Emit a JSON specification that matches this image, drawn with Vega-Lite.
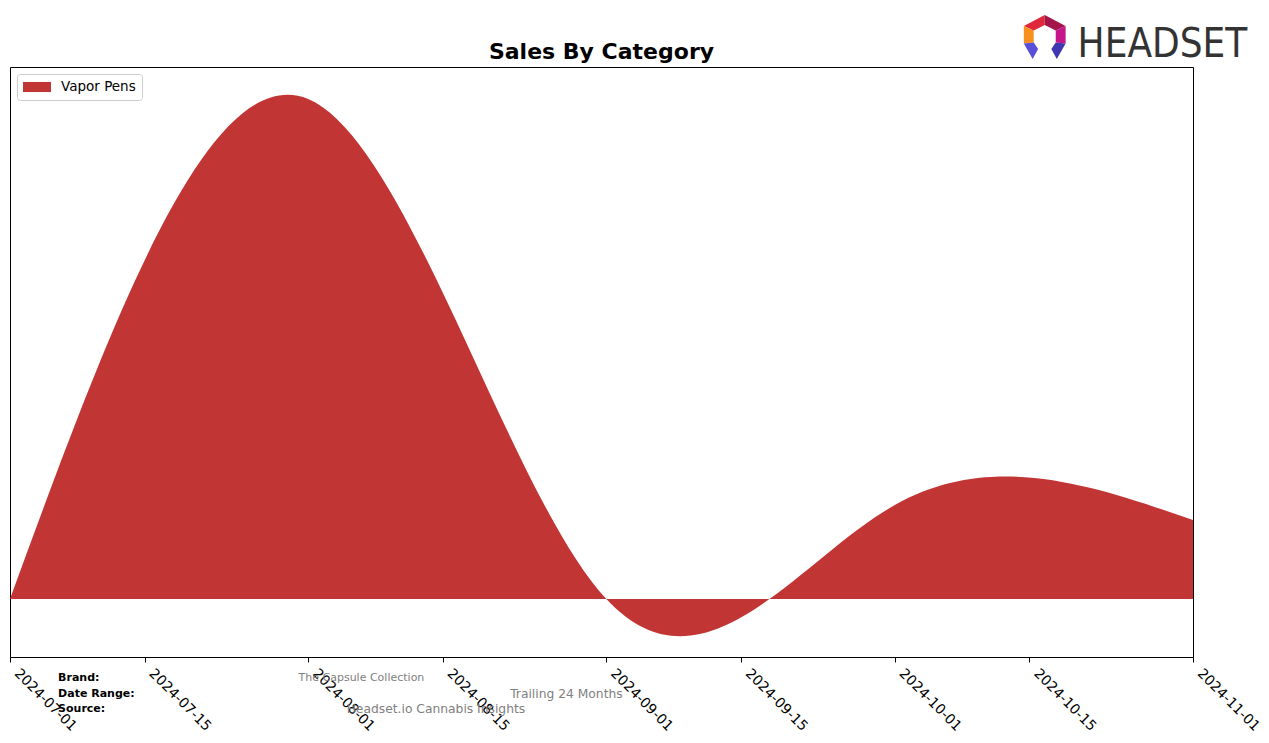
{
  "$schema": "https://vega.github.io/schema/vega-lite/v6.json",
  "width": 1183,
  "height": 590,
  "autosize": {"type": "none"},
  "padding": {"left": 10, "top": 67, "right": 76, "bottom": 86},
  "background": "white",
  "config": {
    "font": "DejaVu Sans",
    "view": {"stroke": "black", "strokeWidth": 1}
  },
  "datasets": {
    "sales": [
      {"date": "2024-07-01", "category": "Vapor Pens", "sales": 0},
      {"date": "2024-08-01", "category": "Vapor Pens", "sales": 50000},
      {"date": "2024-09-01", "category": "Vapor Pens", "sales": 0},
      {"date": "2024-10-01", "category": "Vapor Pens", "sales": 9400},
      {"date": "2024-11-01", "category": "Vapor Pens", "sales": 7900}
    ],
    "logo": [{"brand": "Headset"}]
  },
  "layer": [
    {
      "data": {"name": "sales"},
      "mark": {"type": "area", "interpolate": "natural"},
      "encoding": {
        "x": {
          "field": "date",
          "type": "temporal",
          "scale": {
            "type": "utc",
            "domain": [
              {"year": 2024, "month": 7, "date": 1, "utc": true},
              {"year": 2024, "month": 11, "date": 1, "utc": true}
            ]
          },
          "axis": {
            "title": null,
            "values": [
              {"year": 2024, "month": 7, "date": 1, "utc": true},
              {"year": 2024, "month": 7, "date": 15, "utc": true},
              {"year": 2024, "month": 8, "date": 1, "utc": true},
              {"year": 2024, "month": 8, "date": 15, "utc": true},
              {"year": 2024, "month": 9, "date": 1, "utc": true},
              {"year": 2024, "month": 9, "date": 15, "utc": true},
              {"year": 2024, "month": 10, "date": 1, "utc": true},
              {"year": 2024, "month": 10, "date": 15, "utc": true},
              {"year": 2024, "month": 11, "date": 1, "utc": true}
            ],
            "format": "%Y-%m-%d",
            "labelAngle": 45,
            "labelAlign": "left",
            "labelBaseline": "top",
            "labelFontSize": 14,
            "labelColor": "black",
            "labelPadding": 4,
            "labelOffset": 11,
            "labelOverlap": false,
            "labelFlush": false,
            "tickColor": "black",
            "tickSize": 5,
            "domainColor": "black",
            "grid": false
          }
        },
        "y": {
          "field": "sales",
          "type": "quantitative",
          "stack": null,
          "scale": {"domain": [-5800, 53200], "nice": false, "zero": false},
          "axis": null
        },
        "y2": {"datum": 0},
        "color": {
          "field": "category",
          "type": "nominal",
          "scale": {"range": ["#C23535"]},
          "legend": {
            "title": null,
            "orient": "top-left",
            "offset": 7,
            "padding": 6,
            "strokeColor": "#cccccc",
            "cornerRadius": 3,
            "fillColor": "white",
            "symbolType": "M-2,-0.72L2,-0.72L2,0.72L-2,0.72Z",
            "symbolSize": 196,
            "symbolOffset": 7,
            "symbolStrokeWidth": 0,
            "labelFontSize": 13.5,
            "labelColor": "black",
            "labelOffset": 17
          }
        }
      }
    },
    {
      "data": {"values": [{"t": "Sales By Category"}]},
      "mark": {"type": "text", "fontSize": 22, "fontWeight": "bold", "align": "center", "baseline": "alphabetic", "color": "black"},
      "encoding": {
        "text": {"field": "t"},
        "x": {"datum": {"year": 2024, "month": 8, "date": 31, "hours": 12, "utc": true}},
        "y": {"datum": 54000}
      }
    },
    {
      "data": {"values": [{"t": "Brand:"}]},
      "mark": {"type": "text", "fontSize": 11, "fontWeight": "bold", "align": "left", "baseline": "middle", "color": "black"},
      "encoding": {
        "text": {"field": "t"},
        "x": {"datum": {"year": 2024, "month": 7, "date": 6, "utc": true}},
        "y": {"datum": -7900}
      }
    },
    {
      "data": {"values": [{"t": "Date Range:"}]},
      "mark": {"type": "text", "fontSize": 11, "fontWeight": "bold", "align": "left", "baseline": "middle", "color": "black"},
      "encoding": {
        "text": {"field": "t"},
        "x": {"datum": {"year": 2024, "month": 7, "date": 6, "utc": true}},
        "y": {"datum": -9500}
      }
    },
    {
      "data": {"values": [{"t": "Source:"}]},
      "mark": {"type": "text", "fontSize": 11, "fontWeight": "bold", "align": "left", "baseline": "middle", "color": "black"},
      "encoding": {
        "text": {"field": "t"},
        "x": {"datum": {"year": 2024, "month": 7, "date": 6, "utc": true}},
        "y": {"datum": -11000}
      }
    },
    {
      "data": {"values": [{"t": "The Capsule Collection"}]},
      "mark": {"type": "text", "fontSize": 11, "align": "left", "baseline": "middle", "color": "#808080"},
      "encoding": {
        "text": {"field": "t"},
        "x": {"datum": {"year": 2024, "month": 7, "date": 31, "utc": true}},
        "y": {"datum": -7900}
      }
    },
    {
      "data": {"values": [{"t": "Trailing 24 Months"}]},
      "mark": {"type": "text", "fontSize": 12.3, "align": "left", "baseline": "middle", "color": "#808080"},
      "encoding": {
        "text": {"field": "t"},
        "x": {"datum": {"year": 2024, "month": 8, "date": 22, "utc": true}},
        "y": {"datum": -9500}
      }
    },
    {
      "data": {"values": [{"t": "Headset.io Cannabis Insights"}]},
      "mark": {"type": "text", "fontSize": 12.3, "align": "left", "baseline": "middle", "color": "#808080"},
      "encoding": {
        "text": {"field": "t"},
        "x": {"datum": {"year": 2024, "month": 8, "date": 5, "utc": true}},
        "y": {"datum": -11000}
      }
    },
    {
      "data": {"values": [{"t": "HEADSET"}]},
      "mark": {"type": "text", "fontSize": 40, "font": "'DejaVu Sans Condensed', Roboto, sans-serif", "align": "left", "baseline": "alphabetic", "color": "#333333"},
      "encoding": {
        "text": {"field": "t"},
        "x": {"datum": {"year": 2024, "month": 10, "date": 20, "utc": true}},
        "y": {"datum": 54200}
      }
    },
    {
      "data": {"name": "logo"},
      "mark": {"type": "point", "filled": true, "opacity": 1, "size": 1936, "color": "#E0283C", "shape": "M0,-1L0,-0.55L-0.5,-0.3L-0.95,-0.5Z"},
      "encoding": {
        "x": {"datum": {"year": 2024, "month": 10, "date": 16, "hours": 14, "utc": true}},
        "y": {"datum": 56200}
      }
    },
    {
      "data": {"name": "logo"},
      "mark": {"type": "point", "filled": true, "opacity": 1, "size": 1936, "color": "#A3144A", "shape": "M0,-1L0.95,-0.5L0.5,-0.3L0,-0.55Z"},
      "encoding": {
        "x": {"datum": {"year": 2024, "month": 10, "date": 16, "hours": 14, "utc": true}},
        "y": {"datum": 56200}
      }
    },
    {
      "data": {"name": "logo"},
      "mark": {"type": "point", "filled": true, "opacity": 1, "size": 1936, "color": "#F7901E", "shape": "M-0.95,-0.5L-0.5,-0.3L-0.5,0.25L-0.95,0.3Z"},
      "encoding": {
        "x": {"datum": {"year": 2024, "month": 10, "date": 16, "hours": 14, "utc": true}},
        "y": {"datum": 56200}
      }
    },
    {
      "data": {"name": "logo"},
      "mark": {"type": "point", "filled": true, "opacity": 1, "size": 1936, "color": "#C4168A", "shape": "M0.95,-0.5L0.95,0.3L0.5,0.25L0.5,-0.3Z"},
      "encoding": {
        "x": {"datum": {"year": 2024, "month": 10, "date": 16, "hours": 14, "utc": true}},
        "y": {"datum": 56200}
      }
    },
    {
      "data": {"name": "logo"},
      "mark": {"type": "point", "filled": true, "opacity": 1, "size": 1936, "color": "#5A4FD8", "shape": "M-0.95,0.3L-0.5,0.25L-0.3,0.55L-0.55,1Z"},
      "encoding": {
        "x": {"datum": {"year": 2024, "month": 10, "date": 16, "hours": 14, "utc": true}},
        "y": {"datum": 56200}
      }
    },
    {
      "data": {"name": "logo"},
      "mark": {"type": "point", "filled": true, "opacity": 1, "size": 1936, "color": "#3F36B0", "shape": "M0.95,0.3L0.55,1L0.3,0.55L0.5,0.25Z"},
      "encoding": {
        "x": {"datum": {"year": 2024, "month": 10, "date": 16, "hours": 14, "utc": true}},
        "y": {"datum": 56200}
      }
    }
  ]
}
